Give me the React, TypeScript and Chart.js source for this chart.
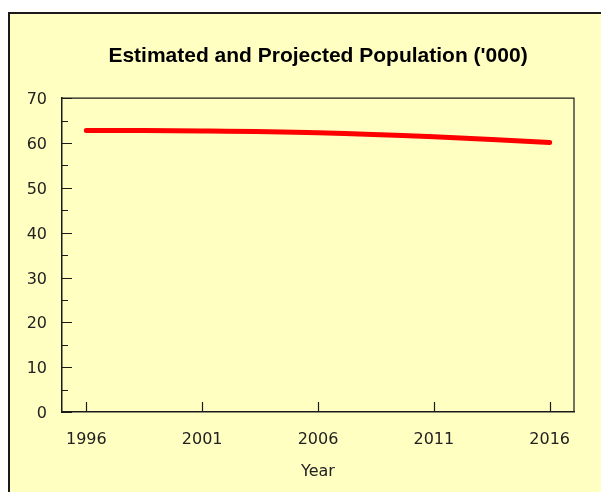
import React, { useEffect, useRef } from "react";
import { Chart, registerables } from "chart.js";

Chart.register(...registerables);

const years: number[] = [1996, 2001, 2006, 2011, 2016];
const population: number[] = [62.8, 62.7, 62.3, 61.4, 60.1];
const yMajorTicks: number[] = [0, 10, 20, 30, 40, 50, 60, 70];
const yMinorTicks: number[] = [5, 15, 25, 35, 45, 55, 65];
const titleText = "Estimated and Projected Population ('000)";
const xTitle = "Year";

const AXIS_COLOR = "#1a1a1a";

const innerTicksPlugin = {
  id: "innerTicks",
  afterDatasetsDraw(chart: any) {
    const { ctx, chartArea, scales } = chart;
    const x = scales.x;
    const y = scales.y;
    ctx.save();
    ctx.strokeStyle = AXIS_COLOR;
    ctx.lineWidth = 1.2;
    ctx.beginPath();
    ctx.moveTo(chartArea.left, chartArea.top);
    ctx.lineTo(chartArea.right, chartArea.top);
    ctx.lineTo(chartArea.right, chartArea.bottom);
    ctx.stroke();
    ctx.beginPath();
    yMajorTicks.forEach((v) => {
      const py = Math.round(y.getPixelForValue(v)) + 0.5;
      ctx.moveTo(chartArea.left, py);
      ctx.lineTo(chartArea.left + 10, py);
    });
    yMinorTicks.forEach((v) => {
      const py = Math.round(y.getPixelForValue(v)) + 0.5;
      ctx.moveTo(chartArea.left, py);
      ctx.lineTo(chartArea.left + 6, py);
    });
    years.forEach((v) => {
      const px = Math.round(x.getPixelForValue(v)) + 0.5;
      ctx.moveTo(px, chartArea.bottom);
      ctx.lineTo(px, chartArea.bottom - 10);
    });
    ctx.stroke();
    ctx.restore();
  },
};

export default function App() {
  const ref = useRef<HTMLCanvasElement | null>(null);
  useEffect(() => {
    if (!ref.current) return;
    const chart = new Chart(ref.current, {
      type: "line",
      data: {
        datasets: [
          {
            label: "Population",
            data: years.map((yr, i) => ({ x: yr, y: population[i] })),
            borderColor: "#ff0000",
            backgroundColor: "#ff0000",
            borderWidth: 5,
            borderCapStyle: "round",
            pointRadius: 0,
            tension: 0.4,
            fill: false,
          },
        ],
      },
      options: {
        animation: false,
        responsive: false,
        layout: { padding: { left: 0, right: 27, top: 0, bottom: 0 } },
        plugins: {
          legend: { display: false },
          tooltip: { enabled: false },
          title: {
            display: true,
            fullSize: false,
            text: titleText,
            color: "#000",
            font: { family: "'Liberation Sans', Arial, sans-serif", size: 21, weight: "bold" },
            padding: { top: 44, bottom: 29 },
          },
        },
        scales: {
          x: {
            type: "linear",
            min: 1994.95,
            max: 2017.05,
            afterBuildTicks: (scale: any) => {
              scale.ticks = years.map((v) => ({ value: v }));
            },
            afterFit: (scale: any) => {
              scale.height = 80;
            },
            grid: { display: false, drawTicks: false },
            border: { display: true, color: AXIS_COLOR, width: 1.5 },
            ticks: {
              color: "#222",
              padding: 18,
              maxRotation: 0,
              autoSkip: false,
              font: { family: "'DejaVu Sans', sans-serif", size: 16 },
              callback: (v: any) => String(v),
            },
            title: {
              display: true,
              text: xTitle,
              color: "#222",
              font: { family: "'DejaVu Sans', sans-serif", size: 16 },
              padding: { top: 4, bottom: 11 },
            },
          },
          y: {
            min: 0,
            max: 70,
            afterFit: (scale: any) => {
              scale.width = 62;
            },
            afterBuildTicks: (scale: any) => {
              scale.ticks = yMajorTicks.map((v) => ({ value: v }));
            },
            grid: { display: false, drawTicks: false },
            border: { display: true, color: AXIS_COLOR, width: 1.5 },
            ticks: {
              color: "#222",
              padding: 15,
              labelOffset: 2,
              font: { family: "'DejaVu Sans', sans-serif", size: 16 },
            },
          },
        },
      },
      plugins: [innerTicksPlugin],
    } as any);
    return () => chart.destroy();
  }, []);

  return (
    <>
      <div
        style={{
          position: "fixed",
          left: 8,
          top: 12,
          right: -20,
          bottom: -20,
          background: "#FFFFC2",
          borderLeft: "2px solid #1a1a1a",
          borderTop: "2px solid #1a1a1a",
        }}
      />
      <canvas
        ref={ref}
        width={601}
        height={492}
        style={{ position: "fixed", left: 0, top: 0, width: 601, height: 492 }}
      />
    </>
  );
}
